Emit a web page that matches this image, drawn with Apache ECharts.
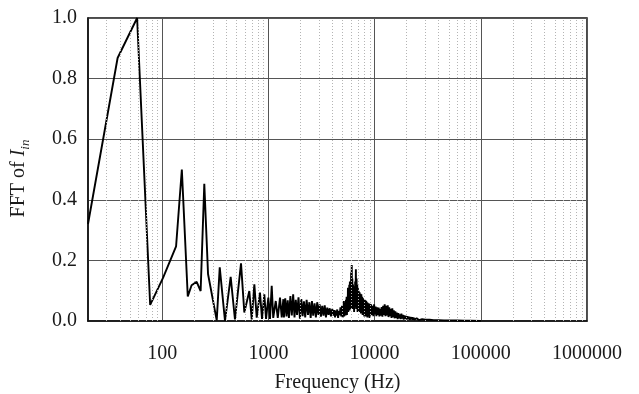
<!DOCTYPE html>
<html><head><meta charset="utf-8">
<script src="https://cdn.jsdelivr.net/npm/echarts@6/dist/echarts.min.js"></script>
<style>html,body{margin:0;padding:0;background:#fff}#c{width:639px;height:394px}</style>
</head><body><div id="c"></div>
<script>
// Low-frequency part (Hz, magnitude)
const lowFreq = [20, 38, 58, 77, 102, 135, 153, 174, 189, 211, 230, 249, 270, 326, 348, 390, 441, 484, 552, 593, 661, 696, 737, 776, 833, 870, 915, 950, 998, 1035, 1074, 1110, 1172, 1225, 1286, 1335, 1382];
const lowMag  = [0.32, 0.868, 1.0, 0.053, 0.143, 0.246, 0.5, 0.081, 0.118, 0.129, 0.099, 0.453, 0.155, 0.002, 0.177, 0.0, 0.146, 0.005, 0.19, 0.028, 0.099, 0.005, 0.121, 0.011, 0.094, 0.007, 0.088, 0.007, 0.077, 0.007, 0.116, 0.01, 0.066, 0.01, 0.077, 0.012, 0.072];
// 1.4 - 4.1 kHz
const midFreq = [1400, 1440, 1480, 1520, 1560, 1610, 1660, 1710, 1760, 1810, 1860, 1920, 1980, 2040, 2100, 2160, 2220, 2290, 2360, 2430, 2500, 2570, 2640, 2720, 2800, 2880, 2960, 3040, 3120, 3210, 3300, 3390, 3480, 3580, 3680, 3780, 3880, 3990, 4100];
const midMag  = [0.012, 0.075, 0.015, 0.068, 0.01, 0.082, 0.018, 0.088, 0.012, 0.07, 0.02, 0.078, 0.008, 0.072, 0.016, 0.065, 0.012, 0.07, 0.02, 0.062, 0.01, 0.066, 0.018, 0.058, 0.012, 0.062, 0.02, 0.055, 0.014, 0.05, 0.018, 0.052, 0.012, 0.044, 0.02, 0.042, 0.015, 0.04, 0.018];
// 4.1 - 5 kHz
const highFreq = [4170, 4240, 4310, 4380, 4450, 4530, 4610, 4690, 4770, 4850, 4930];
const highMag  = [0.036, 0.012, 0.034, 0.018, 0.038, 0.01, 0.033, 0.02, 0.045, 0.015, 0.05];
// 5 - 9 kHz (resonance cluster)
const peakFreq = [5010, 5050, 5090, 5130, 5170, 5210, 5250, 5290, 5330, 5370, 5410, 5450, 5490, 5530, 5570, 5610, 5650, 5690, 5730, 5770, 5810, 5850, 5890, 5930, 5970, 6010, 6050, 6090, 6130, 6170, 6210, 6260, 6310, 6360, 6410, 6460, 6510, 6560, 6610, 6660, 6710, 6760, 6810, 6860, 6910, 6960, 7010, 7080, 7150, 7220, 7290, 7360, 7430, 7500, 7570, 7640, 7710, 7780, 7850, 7920, 7990, 8060, 8130, 8200, 8270, 8340, 8410, 8480, 8550, 8620, 8690, 8760, 8830, 8900, 8960, 9040];
const peakMag  = [0.012, 0.05, 0.02, 0.066, 0.015, 0.055, 0.025, 0.06, 0.018, 0.07, 0.03, 0.08, 0.02, 0.075, 0.035, 0.11, 0.03, 0.09, 0.04, 0.12, 0.035, 0.13, 0.05, 0.1, 0.04, 0.16, 0.06, 0.185, 0.05, 0.14, 0.04, 0.12, 0.05, 0.1, 0.03, 0.115, 0.045, 0.13, 0.05, 0.171, 0.04, 0.14, 0.05, 0.12, 0.03, 0.11, 0.04, 0.1, 0.03, 0.095, 0.035, 0.09, 0.025, 0.088, 0.03, 0.08, 0.02, 0.075, 0.025, 0.072, 0.015, 0.07, 0.022, 0.068, 0.015, 0.066, 0.02, 0.062, 0.012, 0.06, 0.02, 0.058, 0.015, 0.058, 0.01, 0.056];
// 9 - 27 kHz
const upperFreq = [9110, 9260, 9410, 9570, 9730, 9890, 10050, 10220, 10390, 10560, 10730, 10910, 11090, 11270, 11460, 11650, 11840, 12040, 12240, 12440, 12650, 12860, 13070, 13290, 13510, 13730, 13960, 14190, 14430, 14670, 14910, 15160, 15410, 15670, 15930, 16190, 16460, 16730, 17010, 17290, 17580, 17870, 18170, 18470, 18780, 19090, 19410, 19730, 20060, 20390, 20730, 21080, 21430, 21790, 22150, 22520, 22890, 23270, 23660, 24050, 24450, 24860, 25270, 25690, 26120, 26550, 27000];
const upperMag  = [0.018, 0.055, 0.02, 0.05, 0.016, 0.055, 0.022, 0.048, 0.016, 0.045, 0.02, 0.044, 0.015, 0.04, 0.018, 0.046, 0.014, 0.05, 0.02, 0.055, 0.016, 0.05, 0.018, 0.052, 0.013, 0.045, 0.016, 0.04, 0.01, 0.042, 0.013, 0.035, 0.009, 0.032, 0.01, 0.028, 0.006, 0.026, 0.009, 0.022, 0.006, 0.024, 0.008, 0.02, 0.005, 0.018, 0.007, 0.017, 0.005, 0.016, 0.006, 0.014, 0.004, 0.013, 0.005, 0.012, 0.004, 0.011, 0.004, 0.01, 0.003, 0.009, 0.003, 0.008, 0.003, 0.007, 0.003];
// Tail
const tailFreq = [28000, 30000, 33000, 36000, 40000, 45000, 50000, 60000, 70000, 80000, 100000];
const tailMag  = [0.006, 0.004, 0.004, 0.003, 0.003, 0.002, 0.002, 0.0015, 0.001, 0.001, 0.0005];

const xTickLabels = ['100', '1000', '10000', '100000', '1000000'];
const yTickLabels = ['0.0', '0.2', '0.4', '0.6', '0.8', '1.0'];

const allFreq = lowFreq.concat(midFreq, highFreq, peakFreq, upperFreq, tailFreq);
const allMag = lowMag.concat(midMag, highMag, peakMag, upperMag, tailMag);
const seriesData = allFreq.map((f, i) => [f, allMag[i]]);

const minorGrid = [];
for (let k = 1; k <= 5; k++) {
  for (let d = 2; d <= 9; d++) {
    const v = d * Math.pow(10, k);
    if (v > 20 && v < 1000000) minorGrid.push(v);
  }
}

const FONT = '"Liberation Serif", "Times New Roman", serif';
const chart = echarts.init(document.getElementById('c'), null, {renderer: 'canvas'});
chart.setOption({
  animation: false,
  backgroundColor: '#fff',
  grid: {left: 88, right: 52, top: 18, bottom: 73, show: true, borderColor: '#111', borderWidth: 1.5,
         backgroundColor: 'transparent', containLabel: false, outerBoundsMode: 'none'},
  xAxis: {
    type: 'log', logBase: 10, min: 20, max: 1000000,
    name: 'Frequency (Hz)', nameLocation: 'middle', nameGap: 52,
    nameTextStyle: {fontFamily: FONT, fontSize: 20, color: '#1a1a1a'},
    axisLine: {show: true, lineStyle: {color: '#111', width: 1.5}},
    axisTick: {show: false},
    axisLabel: {
      showMinLabel: false, margin: 23, fontFamily: FONT, fontSize: 20, color: '#1a1a1a',
      formatter: v => { const s = String(Math.round(v)); return xTickLabels.indexOf(s) >= 0 ? s : ''; }
    },
    splitLine: {show: true, lineStyle: {color: '#555', width: 1}},
    minorTick: {show: false}, minorSplitLine: {show: false}
  },
  yAxis: {
    type: 'value', min: 0, max: 1, interval: 0.2,
    name: '{a|FFT of }{i|I}{s|in}', nameLocation: 'middle', nameGap: 56,
    nameTextStyle: {
      fontFamily: FONT, fontSize: 20, color: '#1a1a1a', padding: [0, 18, 0, 0],
      rich: {
        a: {fontFamily: FONT, fontSize: 20, color: '#1a1a1a', lineHeight: 26, verticalAlign: 'middle'},
        i: {fontFamily: FONT, fontSize: 20, fontStyle: 'italic', color: '#1a1a1a', lineHeight: 26, verticalAlign: 'middle'},
        s: {fontFamily: FONT, fontSize: 13, fontStyle: 'italic', color: '#1a1a1a', lineHeight: 26, verticalAlign: 'bottom'}
      }
    },
    axisLine: {show: true, lineStyle: {color: '#111', width: 1.5}},
    axisTick: {show: false},
    axisLabel: {
      margin: 11, fontFamily: FONT, fontSize: 20, color: '#1a1a1a',
      formatter: v => yTickLabels[Math.round(v / 0.2)]
    },
    splitLine: {show: true, lineStyle: {color: '#555', width: 1}}
  },
  series: [
    {
      type: 'line', data: [], silent: true, z: 1,
      markLine: {
        silent: true, symbol: ['none', 'none'], animation: false,
        label: {show: false}, emphasis: {disabled: true},
        lineStyle: {type: [1, 2], color: '#b4b4b4', width: 1},
        data: minorGrid.map(v => ({xAxis: v}))
      }
    },
    {
      type: 'line', data: seriesData, z: 3, symbol: 'none', smooth: false,
      lineStyle: {color: '#000', width: 1.9}, silent: true
    }
  ]
});
</script>
</body></html>
